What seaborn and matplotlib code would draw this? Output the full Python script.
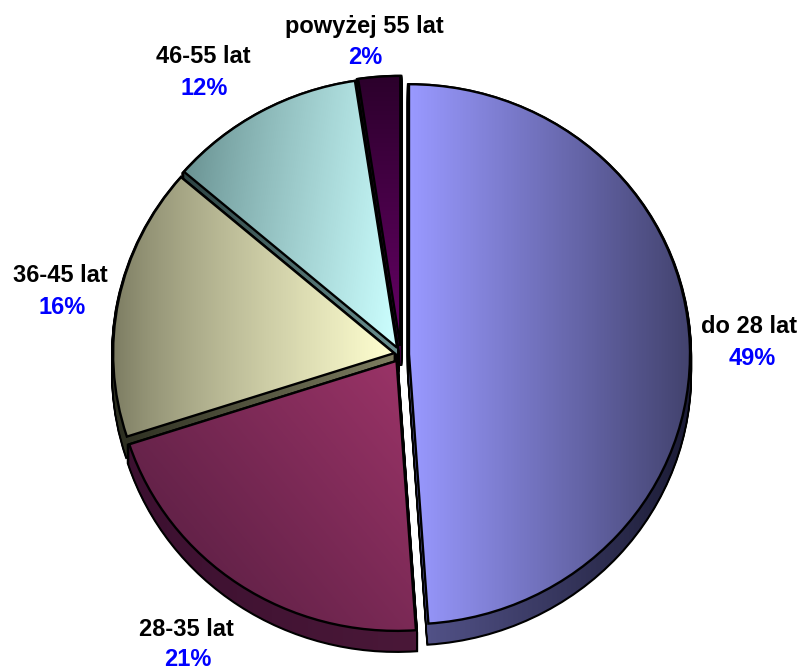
import numpy as np
import matplotlib
matplotlib.use("Agg")
import matplotlib.pyplot as plt
import seaborn as sns

# ---- data ----
categories = ["do 28 lat", "28-35 lat", "36-45 lat", "46-55 lat", "powyżej 55 lat"]
values = [48.9, 21.1, 16.3, 11.3, 2.4]
pct_labels = ["49%", "21%", "16%", "12%", "2%"]

# ---- style ----
top_from = ["#9999ff", "#511c3e", "#7c7c62", "#628a8a", "#660066"]
top_to = ["#43436f", "#9c3468", "#ffffd0", "#ccffff", "#2c002c"]
grad_angle = [0, 38, 0, -10, 90]
grad_gamma = [1.0, 1.0, 0.8, 0.85, 1.0]
side_from = ["#55558c", "#3c1030", "#2c2e20", "#2e4444", "#200020"]
side_to = ["#1c1c36", "#4a1838", "#7d7d60", "#6a9090", "#400040"]
explode_px = [8, 8, 7, 8, 9]
label_xy = [(749, 327), (186, 630), (60, 276), (203, 57), (364, 27)]
pct_xy = [(752, 359), (188, 660), (62, 308), (204, 89), (365, 58)]

W, H = 801, 671
RX, RY = 281, 270
K = RX / RY
CX, CY = 401, 354.5
DEPTH = 20


def py(y):
    return (H - y) * K


sns.set_theme(style="white")
plt.rcParams["font.family"] = ["Liberation Sans", "DejaVu Sans"]

fig = plt.figure(figsize=(W / 100, H / 100), dpi=100)
ax = fig.add_axes([0, 0, 1, 1])


def pie_at(depth):
    wedges, _ = ax.pie(
        values,
        center=(CX, py(CY + depth)),
        radius=RX,
        explode=explode_px,
        startangle=90,
        counterclock=False,
        frame=True,
    )
    return wedges


def fix_limits():
    ax.set_aspect("auto")
    ax.set_xlim(0, W)
    ax.set_ylim(0, H * K)


fix_limits()


def gradient(wedge, c0, c1, angle, z, gamma=1.0):
    bb = wedge.get_path().get_extents()
    u, v = np.meshgrid(np.linspace(0, 1, 64), np.linspace(0, 1, 64))
    a = np.deg2rad(angle)
    t = np.cos(a) * u + np.sin(a) * v
    t = ((t - t.min()) / (t.max() - t.min())) ** gamma
    cmap = sns.blend_palette([c0, c1], n_colors=256, as_cmap=True)
    im = ax.imshow(
        t,
        cmap=cmap,
        extent=(bb.x0, bb.x1, bb.y0, bb.y1),
        origin="lower",
        aspect="auto",
        interpolation="bilinear",
        zorder=z,
    )
    im.set_clip_path(wedge)


n = len(values)
for d in range(DEPTH, 0, -1):
    for i, w in enumerate(pie_at(d)):
        base = (n - i) * 10
        w.set_facecolor("black")
        w.set_edgecolor("black")
        w.set_linewidth(3.0)
        w.set_zorder(base + 1)
        gradient(w, side_from[i], side_to[i], 0, base + 2)

for i, w in enumerate(pie_at(0)):
    base = (n - i) * 10
    gradient(w, top_from[i], top_to[i], grad_angle[i], base + 3, grad_gamma[i])
    w.set_facecolor("none")
    w.set_edgecolor("black")
    w.set_linewidth(1.7)
    w.set_zorder(base + 4)

for (x, y), txt in zip(label_xy, categories):
    ax.text(x, py(y), txt, ha="center", va="center", fontsize=17,
            fontweight="bold", color="black", zorder=100)
for (x, y), txt in zip(pct_xy, pct_labels):
    ax.text(x, py(y), txt, ha="center", va="center", fontsize=17,
            fontweight="bold", color="#0000ff", zorder=100)

fix_limits()
ax.axis("off")
fig.savefig("out.png", dpi=100, facecolor="white")
